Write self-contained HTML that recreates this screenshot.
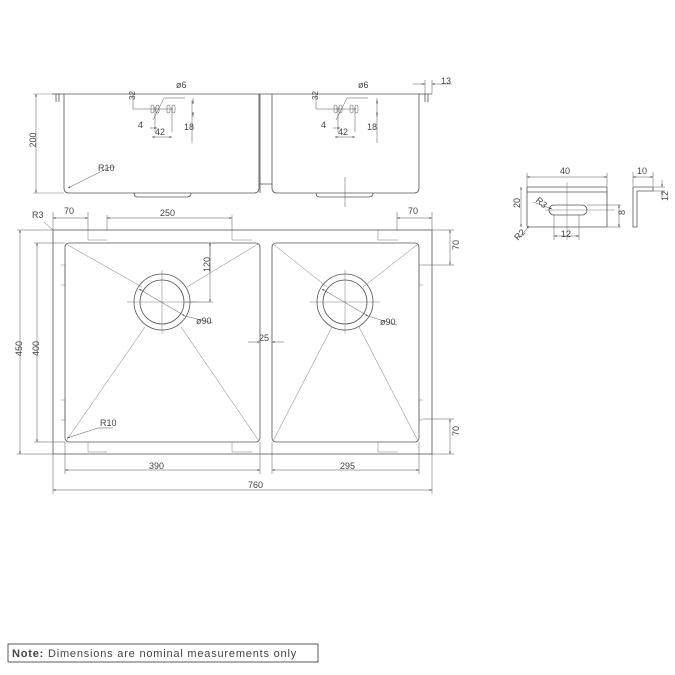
<!DOCTYPE html>
<html><head><meta charset="utf-8"><style>
body{margin:0;background:#fff}
svg{display:block;font-family:"Liberation Sans",sans-serif}
</style></head><body>
<svg width="675" height="675" viewBox="0 0 675 675" xmlns="http://www.w3.org/2000/svg">
<defs><marker id="a" viewBox="0 0 10 10" refX="10" refY="5" markerWidth="5" markerHeight="5" orient="auto-start-reverse"><path d="M0,2L10,5L0,8z" fill="#333"/></marker></defs>
<g fill="none" stroke="#555" stroke-width="0.8">
<!-- top view -->
<line x1="52" y1="94" x2="432" y2="94"/>
<path d="M56,94v8M59,94v8M428,94v8M425,94v8"/>
<path d="M64,94V188q0,5 5,5H254q5,0 5,-5V94"/>
<path d="M272,94V188q0,5 5,5H414q5,0 5,-5V94"/>
<path d="M260,94v90h12M260,184v9"/>
<path d="M134,193q0,4 4,4h49q4,0 4,-4M316,193q0,4 4,4h49q4,0 4,-4"/>
<line x1="345" y1="177" x2="345" y2="207" stroke-width="0.5"/>
<!-- top view dims -->
<line x1="33" y1="94" x2="60" y2="94" stroke-width="0.4"/>
<line x1="33" y1="193" x2="64" y2="193" stroke-width="0.4"/>
<line x1="36" y1="94" x2="36" y2="193" stroke-width="0.5" marker-start="url(#a)" marker-end="url(#a)"/>
<line x1="68" y1="188" x2="110" y2="167" stroke-width="0.5" marker-start="url(#a)"/>
<line x1="110" y1="167" x2="115" y2="167" stroke-width="0.5"/>
<g stroke-width="0.5">
<path d="M133,94v15M133,109h40M192,100v43M155,107v25M172,107v25"/>
<line x1="150" y1="128" x2="157" y2="128" marker-end="url(#a)"/>
<line x1="152" y1="137" x2="172" y2="137" marker-start="url(#a)" marker-end="url(#a)"/>
<line x1="153" y1="120" x2="164" y2="98"/><line x1="164" y1="98" x2="185" y2="98"/>
<rect x="151" y="105" width="3" height="8" rx="1.5"/><rect x="156" y="105" width="3" height="8" rx="1.5"/>
<rect x="167" y="105" width="3" height="8" rx="1.5"/><rect x="172" y="105" width="3" height="8" rx="1.5"/>
<line x1="193" y1="98" x2="193" y2="104" marker-end="url(#a)"/><line x1="193" y1="117" x2="193" y2="112" marker-end="url(#a)"/>
<path d="M316,94v15M316,109h40M377,100v43M338,107v25M355,107v25"/>
<line x1="333" y1="128" x2="340" y2="128" marker-end="url(#a)"/>
<line x1="335" y1="137" x2="355" y2="137" marker-start="url(#a)" marker-end="url(#a)"/>
<line x1="336" y1="120" x2="347" y2="98"/><line x1="347" y1="98" x2="368" y2="98"/>
<rect x="334" y="105" width="3" height="8" rx="1.5"/><rect x="339" y="105" width="3" height="8" rx="1.5"/>
<rect x="350" y="105" width="3" height="8" rx="1.5"/><rect x="355" y="105" width="3" height="8" rx="1.5"/>
<line x1="377" y1="98" x2="377" y2="104" marker-end="url(#a)"/><line x1="377" y1="117" x2="377" y2="112" marker-end="url(#a)"/>
<line x1="413" y1="84" x2="425" y2="84" marker-end="url(#a)"/><line x1="440" y1="84" x2="432" y2="84" marker-end="url(#a)"/>
<path d="M425,80v14M432,80v14M440,84h12"/>
</g>
<!-- plan -->
<rect x="53" y="230" width="379" height="224"/>
<rect x="65" y="243" width="195" height="199" rx="4"/>
<rect x="272" y="243" width="147" height="199" rx="4"/>
<circle cx="162" cy="302" r="28"/><circle cx="162" cy="302" r="22"/>
<circle cx="345" cy="302" r="28"/><circle cx="345" cy="302" r="22"/>
<g stroke-width="0.4">
<path d="M66,244L142,287M258,244L187,287M66,441L145,327M259,441L181,327"/>
<path d="M273,244L327,287M418,244L363,287M273,441L332,327M418,441L359,327"/>
<path d="M162,270v64M127,302h70M345,270v64M310,302h70"/>
<path d="M88,230v10h19M232,230v10h20M378,230v10h20M88,442v10h19M232,442v10h20M378,442v10h20"/>
<path d="M61,265h4v20h-4M61,400h4v20h-4M423,265h-4v20h4M423,400h-4v20h4"/>
</g>
<!-- plan dims -->
<g stroke-width="0.5">
<path d="M17,230h36M17,454h36M34,243h31M34,442h31"/>
<line x1="20" y1="230" x2="20" y2="454" marker-start="url(#a)" marker-end="url(#a)"/>
<line x1="37" y1="243" x2="37" y2="442" marker-start="url(#a)" marker-end="url(#a)"/>
<path d="M53,454v40M432,454v40M65,442v32M260,442v32M272,442v32M419,442v32"/>
<line x1="65" y1="470" x2="260" y2="470" marker-start="url(#a)" marker-end="url(#a)"/>
<line x1="272" y1="470" x2="419" y2="470" marker-start="url(#a)" marker-end="url(#a)"/>
<line x1="53" y1="490" x2="432" y2="490" marker-start="url(#a)" marker-end="url(#a)"/>
<path d="M53,212v18M88,212v18M107,215v15M232,215v15M397,212v18M432,212v18"/>
<line x1="53" y1="218" x2="88" y2="218" marker-start="url(#a)" marker-end="url(#a)"/>
<line x1="107" y1="218" x2="232" y2="218" marker-start="url(#a)" marker-end="url(#a)"/>
<line x1="397" y1="218" x2="432" y2="218" marker-start="url(#a)" marker-end="url(#a)"/>
<path d="M432,230h22M423,265h31M423,419h31M432,454h22"/>
<line x1="450" y1="230" x2="450" y2="265" marker-start="url(#a)" marker-end="url(#a)"/>
<line x1="450" y1="419" x2="450" y2="454" marker-start="url(#a)" marker-end="url(#a)"/>
<path d="M210,243v29"/>
<line x1="210" y1="243" x2="210" y2="302" marker-start="url(#a)" marker-end="url(#a)"/>
<path d="M185,302h28"/>
<line x1="248" y1="342" x2="260" y2="342" marker-end="url(#a)"/><line x1="284" y1="342" x2="272" y2="342" marker-end="url(#a)"/>
<line x1="139" y1="289" x2="185" y2="316" marker-start="url(#a)" marker-end="url(#a)"/><line x1="185" y1="316" x2="213" y2="323"/>
<line x1="322" y1="289" x2="368" y2="316" marker-start="url(#a)" marker-end="url(#a)"/><line x1="368" y1="316" x2="397" y2="325"/>
<line x1="67" y1="438" x2="98" y2="428" marker-start="url(#a)"/><line x1="98" y1="428" x2="113" y2="428"/>
<line x1="44" y1="222" x2="53" y2="230"/>
</g>
<!-- bracket -->
<rect x="527" y="187" width="80" height="40" rx="1"/>
<line x1="527" y1="192" x2="607" y2="192"/>
<rect x="549" y="205" width="38" height="10" rx="5"/>
<g stroke-width="0.4"><path d="M567,182v58M545,210h70"/></g>
<g stroke-width="0.5">
<path d="M527,173v14M607,173v14M554,215v25M579,215v25M587,205h34M607,227h14"/>
<line x1="527" y1="177" x2="607" y2="177" marker-start="url(#a)" marker-end="url(#a)"/>
<line x1="554" y1="236" x2="579" y2="236" marker-start="url(#a)" marker-end="url(#a)"/>
<line x1="619" y1="205" x2="619" y2="227" marker-start="url(#a)" marker-end="url(#a)"/>
<line x1="521" y1="187" x2="521" y2="227" marker-start="url(#a)" marker-end="url(#a)"/>
<line x1="533" y1="202" x2="552" y2="209" marker-end="url(#a)"/>
<line x1="519" y1="238" x2="529" y2="226" marker-end="url(#a)"/>
</g>
<path d="M633,187v40h4v-36h16v-4z"/>
<g stroke-width="0.5">
<path d="M633,172v14M653,172v14M653,191h12M653,187h12"/>
<line x1="633" y1="177" x2="653" y2="177" marker-start="url(#a)" marker-end="url(#a)"/>
<line x1="662" y1="180" x2="662" y2="187" marker-end="url(#a)"/>
<line x1="662" y1="198" x2="662" y2="191" marker-end="url(#a)"/>
</g>
<rect x="8" y="644" width="310" height="18" stroke="#333"/>
</g>
<g fill="#444" font-size="9">
<text x="36" y="148" transform="rotate(-90 32 144)" text-anchor="middle">200</text>
<text x="98" y="171">R10</text>
<text x="176" y="88">ø6</text>
<text x="358" y="88">ø6</text>
<text x="138" y="128">4</text>
<text x="155" y="135">42</text>
<text x="184" y="130">18</text>
<text x="321" y="128">4</text>
<text x="338" y="135">42</text>
<text x="367" y="130">18</text>
<text x="131" y="104" transform="rotate(-90 131 100)" font-size="8">32</text>
<text x="314" y="104" transform="rotate(-90 314 100)" font-size="8">32</text>
<text x="441" y="84">13</text>
<text x="32" y="218">R3</text>
<text x="64" y="214">70</text>
<text x="160" y="216">250</text>
<text x="408" y="214">70</text>
<text x="18" y="360" transform="rotate(-90 18 356)">450</text>
<text x="35" y="360" transform="rotate(-90 35 356)">400</text>
<text x="206" y="276" transform="rotate(-90 206 272)">120</text>
<text x="455" y="254" transform="rotate(-90 455 250)">70</text>
<text x="455" y="440" transform="rotate(-90 455 436)">70</text>
<text x="196" y="324">ø90</text>
<text x="380" y="325">ø90</text>
<text x="259" y="341">25</text>
<text x="100" y="426">R10</text>
<text x="149" y="469">390</text>
<text x="340" y="469">295</text>
<text x="248" y="488">760</text>
<text x="560" y="174">40</text>
<text x="637" y="174">10</text>
<text x="516" y="212" transform="rotate(-90 516 208)">20</text>
<text x="621" y="219" transform="rotate(-90 621 215)">8</text>
<text x="664" y="205" transform="rotate(-90 664 201)">12</text>
<text x="561" y="237">12</text>
<text x="537" y="204" transform="rotate(40 540 200)">R3</text>
<text x="515" y="242" transform="rotate(-45 515 238)">R2</text>
<text x="12" y="657" font-size="11" letter-spacing="0.8"><tspan font-weight="bold">Note:</tspan> Dimensions are nominal measurements only</text>
</g>
</svg>
</body></html>
